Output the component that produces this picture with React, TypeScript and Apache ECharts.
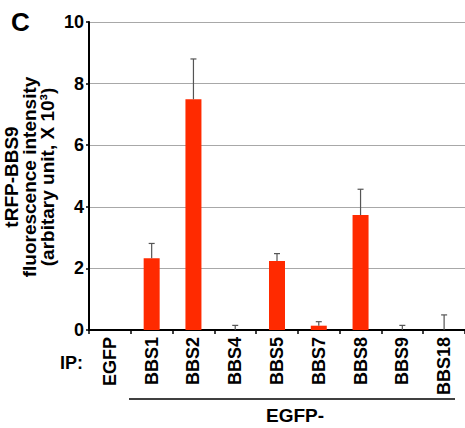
import React, { useEffect, useRef } from "react";
import * as echarts from "echarts";

const categories = ["EGFP", "BBS1", "BBS2", "BBS4", "BBS5", "BBS7", "BBS8", "BBS9", "BBS18"];
const means = [0, 2.33, 7.49, 0, 2.24, 0.14, 3.73, 0, 0];
const errTops = [null, 2.81, 8.8, 0.15, 2.48, 0.27, 4.57, 0.15, 0.49];
const yTicks = [0, 2, 4, 6, 8, 10];

const FONT = "Liberation Sans, Arial, Helvetica, sans-serif";

export default function App() {
  const ref = useRef<HTMLDivElement>(null);
  useEffect(() => {
    if (!ref.current) return;
    const chart = echarts.init(ref.current, null, { renderer: "svg" });
    const errData = categories
      .map((c, i) => (errTops[i] == null ? null : [i, means[i], errTops[i]]))
      .filter((d) => d !== null);
    chart.setOption({
      animation: false,
      backgroundColor: "#ffffff",
      grid: { left: 89, right: -3, top: 22, bottom: 98, containLabel: false },
      xAxis: {
        type: "category",
        data: categories,
        axisLine: { lineStyle: { color: "#000", width: 2 } },
        axisTick: { show: true, alignWithLabel: false, length: 4, lineStyle: { color: "#000", width: 1.5 } },
        axisLabel: {
          rotate: 90,
          interval: 0,
          margin: 7,
          color: "#000",
          fontWeight: "bold",
          fontSize: 18,
          fontFamily: FONT,
        },
      },
      yAxis: {
        type: "value",
        min: 0,
        max: 10,
        interval: 2,
        axisLine: { show: true, lineStyle: { color: "#000", width: 2 } },
        axisTick: { show: true, length: 3, lineStyle: { color: "#000", width: 1.5 } },
        axisLabel: {
          color: "#000",
          fontWeight: "bold",
          fontSize: 18,
          fontFamily: FONT,
          margin: 5,
          formatter: (v: number) => (yTicks.includes(v) ? String(v) : ""),
        },
        splitLine: { show: true, lineStyle: { color: "#a8a8a8", width: 1 } },
      },
      series: [
        {
          type: "bar",
          data: means,
          barWidth: 16,
          itemStyle: { color: "#ff2a00" },
          z: 2,
        },
        {
          type: "custom",
          data: errData,
          z: 3,
          renderItem: (params: any, api: any) => {
            const x = api.value(0);
            const lo = api.coord([x, api.value(1)]);
            const hi = api.coord([x, api.value(2)]);
            const cap = 3;
            const style = { stroke: "#555", lineWidth: 1.2 };
            return {
              type: "group",
              children: [
                { type: "line", shape: { x1: lo[0], y1: lo[1], x2: hi[0], y2: hi[1] }, style },
                { type: "line", shape: { x1: hi[0] - cap, y1: hi[1], x2: hi[0] + cap, y2: hi[1] }, style },
              ],
            };
          },
        },
      ],
      graphic: [
        {
          type: "text",
          left: 11,
          top: 9,
          style: { text: "C", font: `bold 26px ${FONT}`, fill: "#000" },
        },
        {
          type: "text",
          x: 2,
          y: 177,
          rotation: Math.PI / 2,
          style: {
            text: "tRFP-BBS9\nfluorescence intensity\n(arbitary unit, X 10³)",
            font: `bold 19px ${FONT}`,
            fill: "#000",
            align: "center",
            verticalAlign: "top",
            lineHeight: 18,
          },
        },
        {
          type: "text",
          x: 83,
          y: 363,
          style: { text: "IP:", font: `bold 18px ${FONT}`, fill: "#000", align: "right", verticalAlign: "middle" },
        },
        {
          type: "line",
          shape: { x1: 129, y1: 399, x2: 455, y2: 399 },
          style: { stroke: "#000", lineWidth: 1.5 },
        },
        {
          type: "text",
          x: 295,
          y: 415,
          style: { text: "EGFP-", font: `bold 19px ${FONT}`, fill: "#000", align: "center", verticalAlign: "middle" },
        },
      ],
    });
    return () => chart.dispose();
  }, []);
  return <div ref={ref} style={{ width: 465, height: 428, position: "absolute", left: 0, top: 0 }} />;
}
